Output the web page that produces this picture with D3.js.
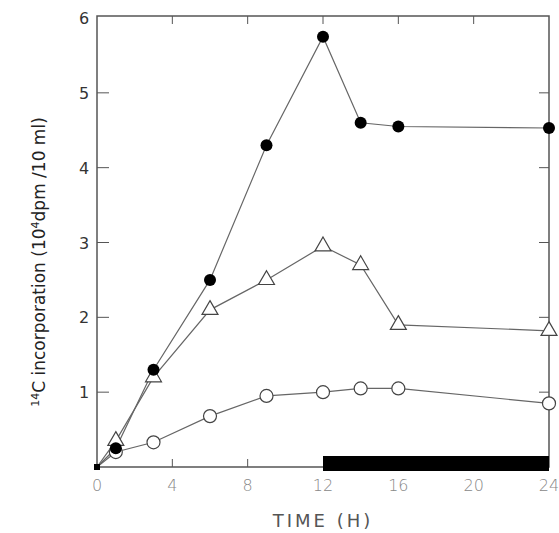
<!DOCTYPE html><html><head><script src="https://cdn.jsdelivr.net/npm/d3@7"></script>
<style>body{margin:0;background:#fff}</style></head><body><svg width="559" height="533"></svg>
<script>
const hours=[0,1,3,6,9,12,14,16,24];
const filled=[0,0.25,1.3,2.5,4.3,5.75,4.6,4.55,4.53];
const triangle=[0,0.35,1.2,2.1,2.5,2.95,2.7,1.9,1.82];
const openC=[0,0.2,0.33,0.68,0.95,1.0,1.05,1.05,0.85];
const xTicks=[0,4,8,12,16,20,24];
const yTicks=[1,2,3,4,5,6];
const darkStart=12, darkEnd=24;
const svg=d3.select("svg");
const x=d3.scaleLinear().domain([0,24]).range([97,549]);
const y=d3.scaleLinear().domain([0,6]).range([467,18]);
const c="#555";
svg.append("rect").attr("x",97).attr("y",16).attr("width",452).attr("height",451).attr("fill","none").attr("stroke",c).attr("stroke-width",1.5);
svg.append("rect").attr("x",x(darkStart)).attr("y",456).attr("width",x(darkEnd)-x(darkStart)).attr("height",15).attr("fill","#000");
const ff="DejaVu Sans";
xTicks.forEach(t=>{
 svg.append("text").attr("x",x(t)).attr("y",491).attr("text-anchor","middle").attr("font-family",ff).attr("font-size",16).attr("fill","#888").attr("font-weight",200).text(t);
 if(t>0&&t<24){
  svg.append("line").attr("x1",x(t)).attr("x2",x(t)).attr("y1",16).attr("y2",24).attr("stroke",c);
  if(t<12) svg.append("line").attr("x1",x(t)).attr("x2",x(t)).attr("y1",467).attr("y2",459).attr("stroke",c);
 }
});
yTicks.forEach(t=>{
 svg.append("text").attr("x",84).attr("y",y(t)+6).attr("text-anchor","middle").attr("font-family",ff).attr("font-size",16).attr("fill","#333").text(t);
 if(t<6){
  svg.append("line").attr("x1",97).attr("x2",109).attr("y1",y(t)).attr("y2",y(t)).attr("stroke",c);
  svg.append("line").attr("x1",549).attr("x2",539).attr("y1",y(t)).attr("y2",y(t)).attr("stroke",c);
 }
});
svg.append("text").attr("x",323).attr("y",527).attr("text-anchor","middle").attr("font-family",ff).attr("font-size",18).attr("fill","#555").attr("letter-spacing",3).text("TIME  (H)");
const yl=svg.append("text").attr("transform","translate(45,262) rotate(-90)").attr("text-anchor","middle").attr("font-family",ff).attr("font-size",17).attr("fill","#222");
yl.append("tspan").attr("font-size",11).attr("dy",-6).text("14");
yl.append("tspan").attr("dy",6).text("C incorporation (10");
yl.append("tspan").attr("font-size",11).attr("dy",-6).text("4");
yl.append("tspan").attr("dy",6).text("dpm /10 ml)");
const line=d3.line().x((d,i)=>x(hours[i])).y(d=>y(d));
[openC,triangle,filled].forEach(s=>svg.append("path").attr("d",line(s)).attr("fill","none").attr("stroke","#666").attr("stroke-width",1.2));
const pts=s=>s.map((v,i)=>[hours[i],v]).filter(d=>d[0]>0);
svg.selectAll(".o").data(pts(openC)).join("circle").attr("cx",d=>x(d[0])).attr("cy",d=>y(d[1])).attr("r",6.5).attr("fill","#fff").attr("stroke","#444").attr("stroke-width",1.2);
svg.selectAll(".t").data(pts(triangle)).join("path").attr("d",d3.symbol(d3.symbolTriangle,110)).attr("transform",d=>`translate(${x(d[0])},${y(d[1])})`).attr("fill","#fff").attr("stroke","#444").attr("stroke-width",1.2);
svg.selectAll(".f").data(pts(filled)).join("circle").attr("cx",d=>x(d[0])).attr("cy",d=>y(d[1])).attr("r",6).attr("fill","#000");
svg.append("rect").attr("x",94).attr("y",464).attr("width",6).attr("height",6).attr("fill","#000");
</script></body></html>
